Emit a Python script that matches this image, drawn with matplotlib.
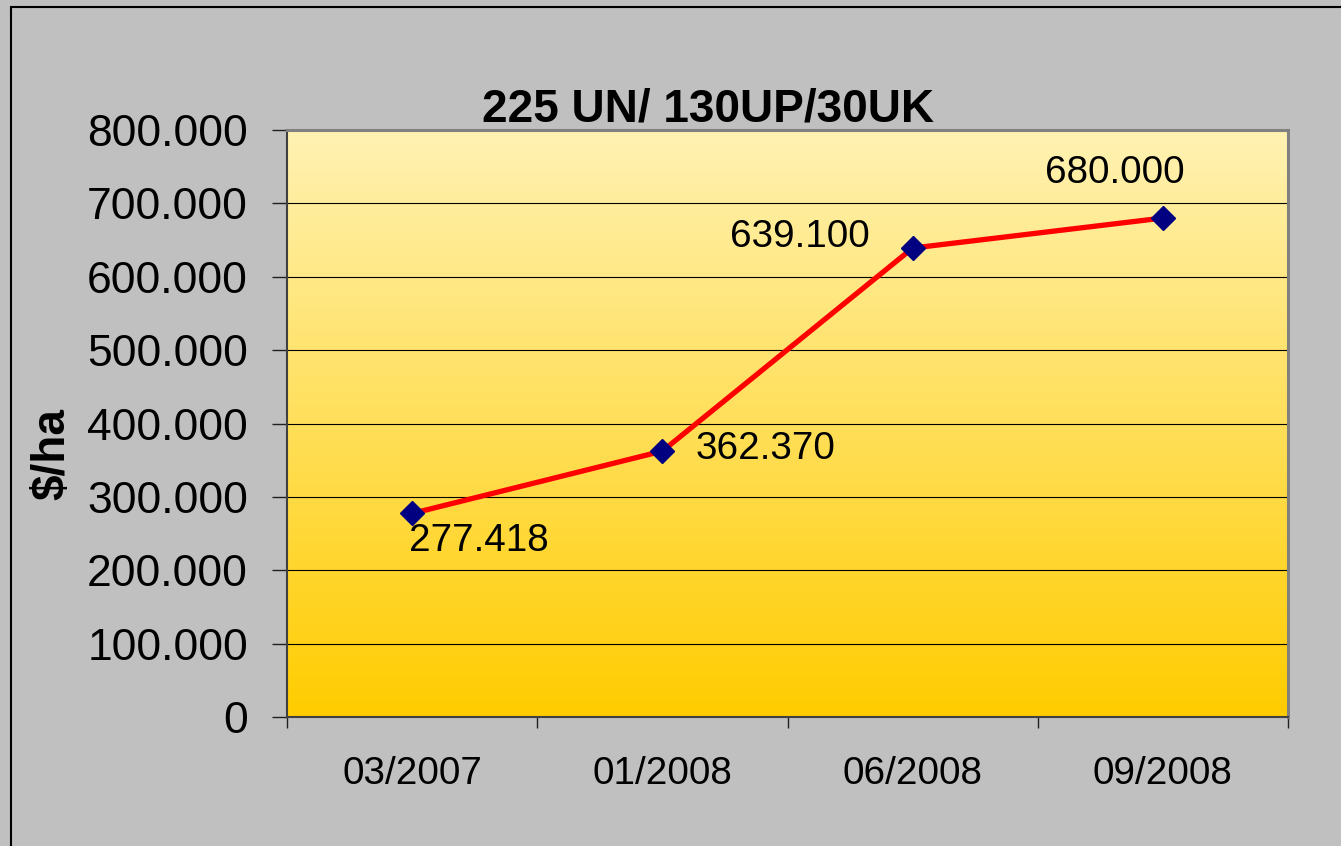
import numpy as np
import matplotlib
matplotlib.use("Agg")
import matplotlib.pyplot as plt
from matplotlib.colors import LinearSegmentedColormap
from matplotlib.patches import Rectangle
from matplotlib.ticker import FuncFormatter

# Data
dates = ["03/2007", "01/2008", "06/2008", "09/2008"]
costs = [277418, 362370, 639100, 680000]
title = "225 UN/ 130UP/30UK"
ylabel = "$/ha"


def thousands(v):
    v = int(round(v))
    if v == 0:
        return "0"
    return f"{v:,}".replace(",", ".")


plt.rcParams['font.family'] = ['Liberation Sans', 'DejaVu Sans']

fig = plt.figure(figsize=(13.41, 8.46), dpi=100)
fig.patch.set_facecolor('#C0C0C0')

ax = fig.add_axes([287/1341, 1 - 717/846, 1001/1341, 587/846])
x = np.arange(len(dates))

# gradient plot area
grad = LinearSegmentedColormap.from_list('gold', ['#FFCC00', '#FFF2B3'])
ax.imshow(np.linspace(0, 1, 256).reshape(-1, 1), extent=[-0.5, 3.5, 0, 800000],
          aspect='auto', cmap=grad, origin='lower', zorder=0)

ax.plot(x, costs, color='#FF0000', lw=3.8, marker='D', markersize=12,
        markerfacecolor='#000080', markeredgecolor='#000080', zorder=3)

# data labels: (dx, dy) in pixels, alignment
offsets = [(-3, -28, 'left'), (33, 2, 'left'), (-43, 11, 'right'), (-48, 45, 'center')]
for xi, v, (dx, dy, ha) in zip(x, costs, offsets):
    ax.annotate(thousands(v), xy=(xi, v), xytext=(dx, dy), textcoords='offset pixels',
                ha=ha, va='center', fontsize=27.8, color='black', zorder=4)

ax.set_xlim(-0.5, 3.5)
ax.set_ylim(0, 800000)
ax.set_yticks(np.arange(0, 800001, 100000))
ax.yaxis.set_major_formatter(FuncFormatter(lambda v, p: thousands(v)))
ax.yaxis.grid(True, color='black', lw=0.8)
ax.tick_params(axis='y', labelsize=32, length=11, width=1, pad=17, color='#202020')

ax.set_xticks(x)
ax.set_xticklabels(dates)
ax.set_xticks(np.arange(-0.5, 3.6, 1), minor=True)
ax.tick_params(axis='x', which='major', length=0, labelsize=27.8, pad=28)
ax.tick_params(axis='x', which='minor', length=8, width=1, color='#202020')

for s in ['left', 'bottom']:
    ax.spines[s].set_color('#404040')
    ax.spines[s].set_linewidth(1.5)
for s in ['top', 'right']:
    ax.spines[s].set_color('#808080')
    ax.spines[s].set_linewidth(2.2)

fig.text(708/1341, 1 - 122/846, title, ha='center', va='baseline',
         fontsize=33, fontweight='bold')
fig.text(52/1341, 1 - 454/846, ylabel, ha='center', va='center', rotation=90,
         fontsize=33, fontweight='bold')

# outer chart border
fig.patches.append(Rectangle((11/1341, -0.1), 1.2, 1 - 7/846 + 0.1, transform=fig.transFigure,
                             fill=False, edgecolor='black', lw=1.5, clip_on=False))

fig.savefig('out.png', dpi=100, facecolor=fig.get_facecolor())
